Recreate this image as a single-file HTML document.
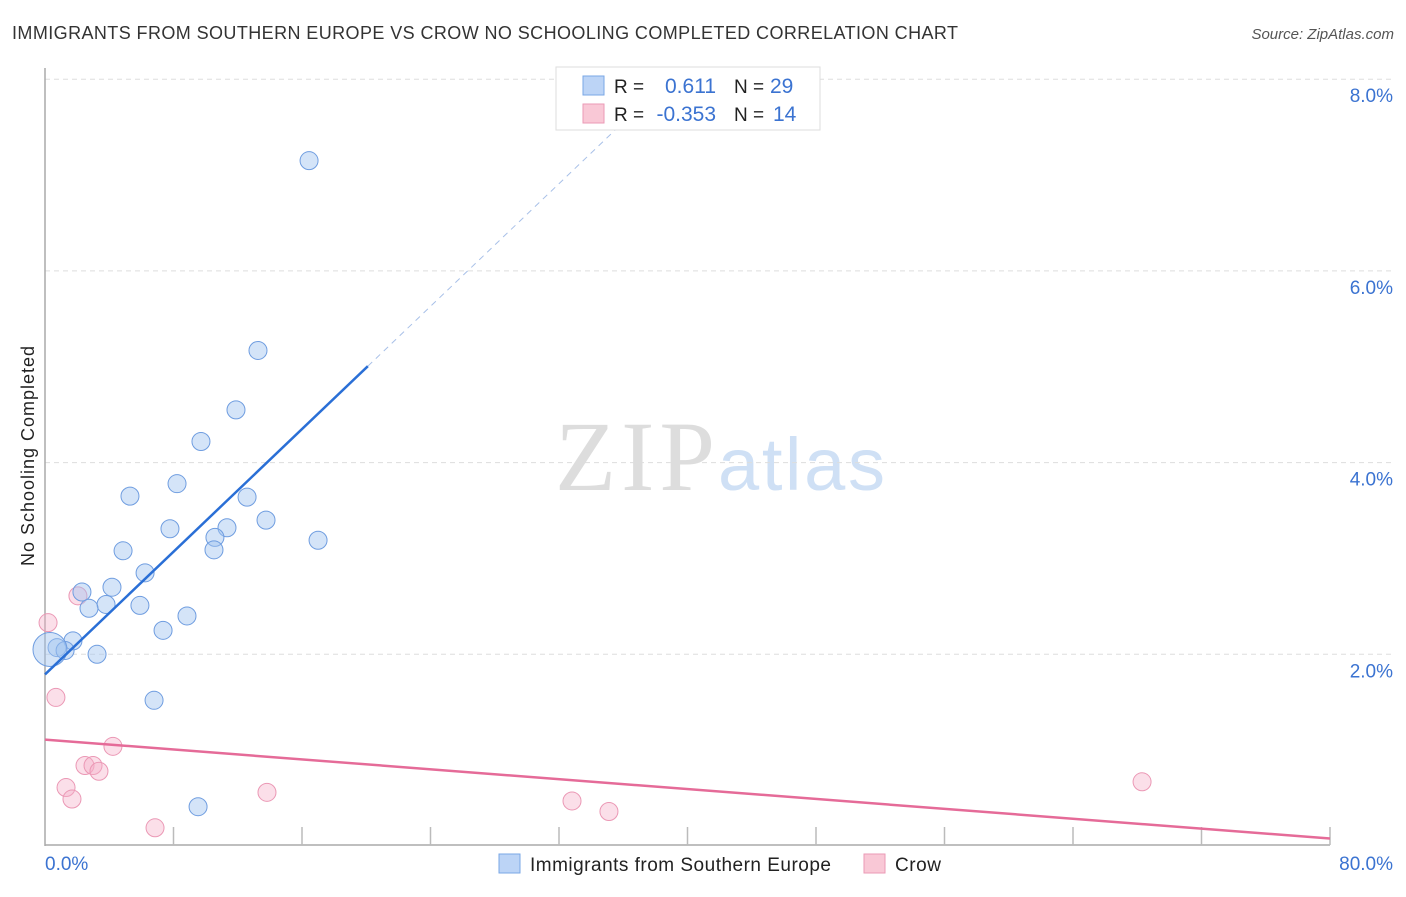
<!DOCTYPE html>
<html><head><meta charset="utf-8"><style>
body{margin:0;background:#fff;font-family:"Liberation Sans",sans-serif}
</style></head><body>
<svg id="chart" width="1406" height="892" style="font-family:'Liberation Sans',sans-serif">
<text x="12" y="39" font-size="18" fill="#333" textLength="946">IMMIGRANTS FROM SOUTHERN EUROPE VS CROW NO SCHOOLING COMPLETED CORRELATION CHART</text>
<text x="1394" y="39" font-size="15" fill="#555" font-style="italic" text-anchor="end">Source: ZipAtlas.com</text>
<text x="34" y="456" font-size="18" fill="#222" text-anchor="middle" textLength="220" transform="rotate(-90 34 456)">No Schooling Completed</text>
<text x="555" y="490" font-size="100" fill="#ddd" font-family="Liberation Serif" textLength="160">ZIP</text>
<text x="718" y="490" font-size="74" fill="#cfe0f5" textLength="167">atlas</text>
<g id="grid"></g><g id="marks"></g>
<g>
<rect x="556" y="67" width="264" height="63" fill="#fff" stroke="#ddd"/>
<rect x="583" y="76" width="21" height="19" fill="#bcd4f6" stroke="#7aa7e6"/>
<rect x="583" y="104" width="21" height="19" fill="#f9c8d6" stroke="#eb9ab6"/>
<text x="614" y="93" font-size="19" fill="#222">R =</text>
<text x="716" y="93" font-size="21" fill="#3b73d1" text-anchor="end">0.611</text>
<text x="734" y="93" font-size="19" fill="#222">N =</text>
<text x="770" y="93" font-size="21" fill="#3b73d1">29</text>
<text x="614" y="121" font-size="19" fill="#222">R =</text>
<text x="716" y="121" font-size="21" fill="#3b73d1" text-anchor="end">-0.353</text>
<text x="734" y="121" font-size="19" fill="#222">N =</text>
<text x="773" y="121" font-size="21" fill="#3b73d1">14</text>
</g>
<g>
<rect x="499" y="854" width="21" height="19" fill="#bcd4f6" stroke="#7aa7e6"/>
<text x="530" y="871" font-size="19" fill="#222" textLength="301">Immigrants from Southern Europe</text>
<rect x="864" y="854" width="21" height="19" fill="#f9c8d6" stroke="#eb9ab6"/>
<text x="895" y="871" font-size="19" fill="#222" textLength="46">Crow</text>
</g>
</svg>
<script>
const blueX=[16.44,13.26,11.89,9.71,8.22,5.29,12.58,13.76,7.78,11.33,10.58,17.0,4.86,10.52,6.23,4.17,2.3,3.8,5.91,2.74,8.84,7.35,1.74,0.75,1.25,3.24,6.79,9.53,0.31];
const blueY=[7.15,5.17,4.55,4.22,3.78,3.65,3.64,3.40,3.31,3.32,3.22,3.19,3.08,3.09,2.85,2.70,2.65,2.52,2.51,2.48,2.40,2.25,2.14,2.07,2.04,2.00,1.52,0.41,2.05];
const pinkX=[0.19,2.05,0.68,4.23,2.49,2.99,3.36,1.31,1.68,13.82,6.85,32.81,35.11,68.3];
const pinkY=[2.33,2.61,1.55,1.04,0.84,0.84,0.78,0.61,0.49,0.56,0.19,0.47,0.36,0.67];
const blueTrend=[1.79,0.16];
const pinkTrend=[1.11,-0.0129];
const yTicks=[2,4,6,8];
const xTickLabels=["0.0%","80.0%"];
const X=v=>45+v/80*1285, Y=v=>846-v*95.85;
const NS="http://www.w3.org/2000/svg";
function mk(p,t,a){const e=document.createElementNS(NS,t);for(const k in a)e.setAttribute(k,a[k]);p.appendChild(e);return e;}
const g=document.getElementById('grid'), m=document.getElementById('marks');
yTicks.forEach(t=>{
 const l=mk(g,'line',{x1:45,x2:1395,y1:Y(t),y2:Y(t),stroke:'#ddd','stroke-dasharray':'5,4'});
 
 
 const tx=mk(g,'text',{x:1393,y:Y(t)+23,'font-size':19,fill:'#3b73d1','text-anchor':'end'});tx.textContent=t.toFixed(1)+'%';
 
 
});
mk(g,'line',{x1:45,x2:45,y1:68,y2:846,stroke:'#aaa','stroke-width':1.5});
mk(g,'line',{x1:45,x2:1330,y1:845,y2:845,stroke:'#aaa','stroke-width':1.5});
for(let i=1;i<=10;i++){mk(g,'line',{x1:X(i*8),x2:X(i*8),y1:827,y2:845,stroke:'#bbb','stroke-width':1.5});}
const t0=mk(g,'text',{x:45,y:870,'font-size':19,fill:'#3b73d1'});t0.textContent=xTickLabels[0];


const t1=mk(g,'text',{x:1393,y:870,'font-size':19,fill:'#3b73d1','text-anchor':'end'});t1.textContent=xTickLabels[1];


pinkX.forEach((x,i)=>{const c=mk(m,'circle',{cx:X(x),cy:Y(pinkY[i]),r:9,fill:'rgba(246,175,200,0.4)',stroke:'#eb98b5','stroke-width':1});
 
 });
blueX.forEach((x,i)=>{const c=mk(m,'circle',{cx:X(x),cy:Y(blueY[i]),r:i==28?17:9,fill:'rgba(160,195,240,0.45)',stroke:'#6f9de0','stroke-width':1});
 
 });
const bl=mk(m,'line',{x1:X(0),y1:Y(blueTrend[0]),x2:X(20.1),y2:Y(blueTrend[0]+blueTrend[1]*20.1),stroke:'#2a6fd6','stroke-width':2.5});


const bd=mk(m,'line',{x1:X(20.1),y1:Y(blueTrend[0]+blueTrend[1]*20.1),x2:X(37),y2:Y(blueTrend[0]+blueTrend[1]*37),stroke:'#a8c0e8','stroke-width':1,'stroke-dasharray':'6,5'});


const pl=mk(m,'line',{x1:X(0),y1:Y(pinkTrend[0]),x2:X(80),y2:Y(pinkTrend[0]+pinkTrend[1]*80),stroke:'#e56b98','stroke-width':2.5});


</script>
</body></html>
